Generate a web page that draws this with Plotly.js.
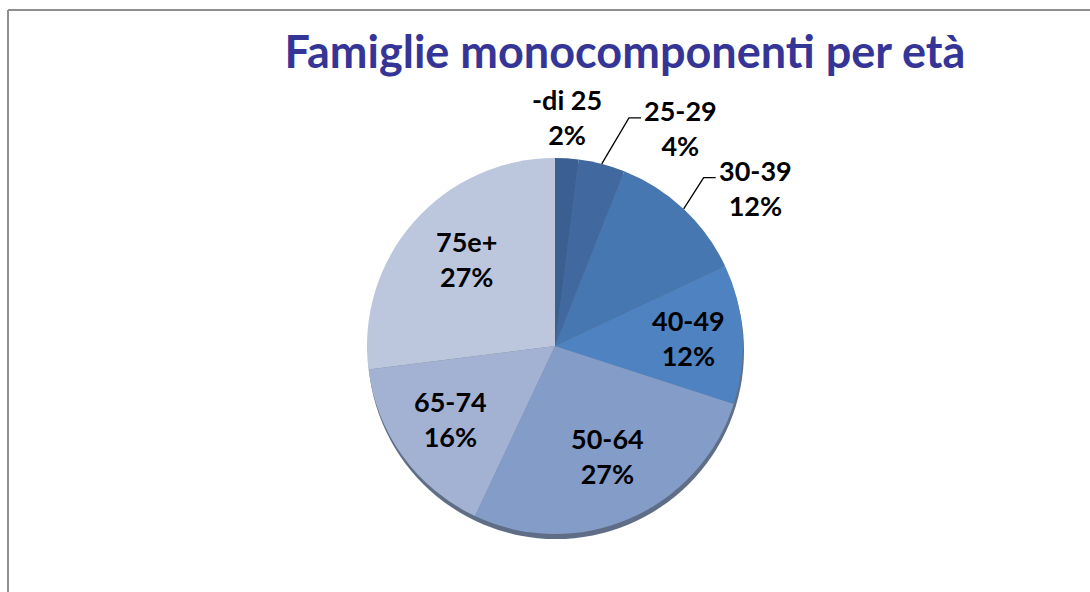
<!DOCTYPE html>
<html><head><meta charset="utf-8">
<script src="https://cdn.plot.ly/plotly-3.0.1.min.js"></script>
<style>html,body{margin:0;padding:0;background:#fff}#chart{width:1090px;height:592px}</style>
</head><body><div id="chart"></div>
<script>
// ---- data ----
const categories = ['-di 25', '25-29', '30-39', '40-49', '50-64', '65-74', '75e+'];
const values = [2, 4, 12, 12, 27, 16, 27];
const titleText = 'Famiglie monocomponenti per età';

// ---- style ----
const colors = ['#3b5f91', '#4169a0', '#4677b0', '#4f82c0', '#839dc8', '#a3b2d3', '#bcc6dc'];
const W = 1090, H = 592;
const cx = 555, cy = 346, R = 188;
// label placement: radius factor, angle offset (deg) from slice mid, leader line
const labelStyle = [
  {rf: 1.22, da: -0.6, leader: false},
  {rf: 1.34, da: 15.6, leader: true},
  {rf: 1.36, da: 8.5, leader: true},
  {rf: 0.71, da: 0, leader: false},
  {rf: 0.65, da: -2, leader: false},
  {rf: 0.68, da: 1, leader: false},
  {rf: 0.66, da: 3, leader: false}
];
const labelFont = {family: 'Lato, "Open Sans", sans-serif', size: 27, color: '#000', weight: 700};

const px = x => x / W;
const py = y => 1 - y / H;

const total = values.reduce((a, b) => a + b, 0);
let cum = 0;
const annotations = [];
const shapes = [];

// chart area border (top and left visible)
shapes.push({type: 'line', xref: 'paper', yref: 'paper', x0: px(8), x1: 1, y0: py(10), y1: py(10), line: {color: '#8f8f8f', width: 2}});
shapes.push({type: 'line', xref: 'paper', yref: 'paper', x0: px(8), x1: px(8), y0: py(10), y1: 0, line: {color: '#8f8f8f', width: 2}});
// 3D rim shadow under the pie
shapes.push({type: 'circle', xref: 'paper', yref: 'paper', layer: 'below',
  x0: px(cx - R + 1), x1: px(cx + R + 1), y0: py(cy + R + 5), y1: py(cy - R + 5),
  fillcolor: '#5f6e86', line: {width: 0}});

values.forEach((v, i) => {
  const mid = (cum + v / 2) / total * 360;
  cum += v;
  const st = labelStyle[i];
  const a = (mid + st.da) * Math.PI / 180;
  const tx = cx + st.rf * R * Math.sin(a);
  const ty = cy - st.rf * R * Math.cos(a);
  const pct = Math.round(v / total * 100) + '%';
  annotations.push({
    xref: 'paper', yref: 'paper', x: px(tx), y: py(ty), xanchor: 'center', yanchor: 'middle',
    text: categories[i] + '<br>' + pct, showarrow: false, font: labelFont, align: 'center'
  });
  if (st.leader) {
    const am = mid * Math.PI / 180;
    const ex = cx + R * Math.sin(am), ey = cy - R * Math.cos(am);
    const endX = tx - 40, endY = ty - 10;
    const elX = endX - 12;
    shapes.push({type: 'path', xref: 'paper', yref: 'paper',
      path: `M ${px(ex)} ${py(ey)} L ${px(elX)} ${py(endY)} L ${px(endX)} ${py(endY)}`,
      line: {color: '#000', width: 1.3}});
  }
});

const trace = {
  type: 'pie',
  labels: categories,
  values: values,
  sort: false,
  direction: 'clockwise',
  rotation: 0,
  textinfo: 'none',
  hoverinfo: 'label+percent',
  marker: {colors: colors, line: {width: 0}},
  domain: {x: [px(cx - R), px(cx + R)], y: [py(cy + R), py(cy - R)]},
  showlegend: false
};

const layout = {
  width: W, height: H,
  margin: {l: 0, r: 0, t: 0, b: 0},
  paper_bgcolor: '#fff',
  title: {
    text: titleText,
    font: {family: 'Lato, "Open Sans", sans-serif', size: 45, color: '#353597', weight: 700},
    x: px(625), xanchor: 'center', xref: 'paper',
    y: py(52), yanchor: 'middle', yref: 'container'
  },
  shapes: shapes,
  annotations: annotations,
  showlegend: false
};

Plotly.newPlot('chart', [trace], layout, {displayModeBar: false, staticPlot: true});
</script>
</body></html>
